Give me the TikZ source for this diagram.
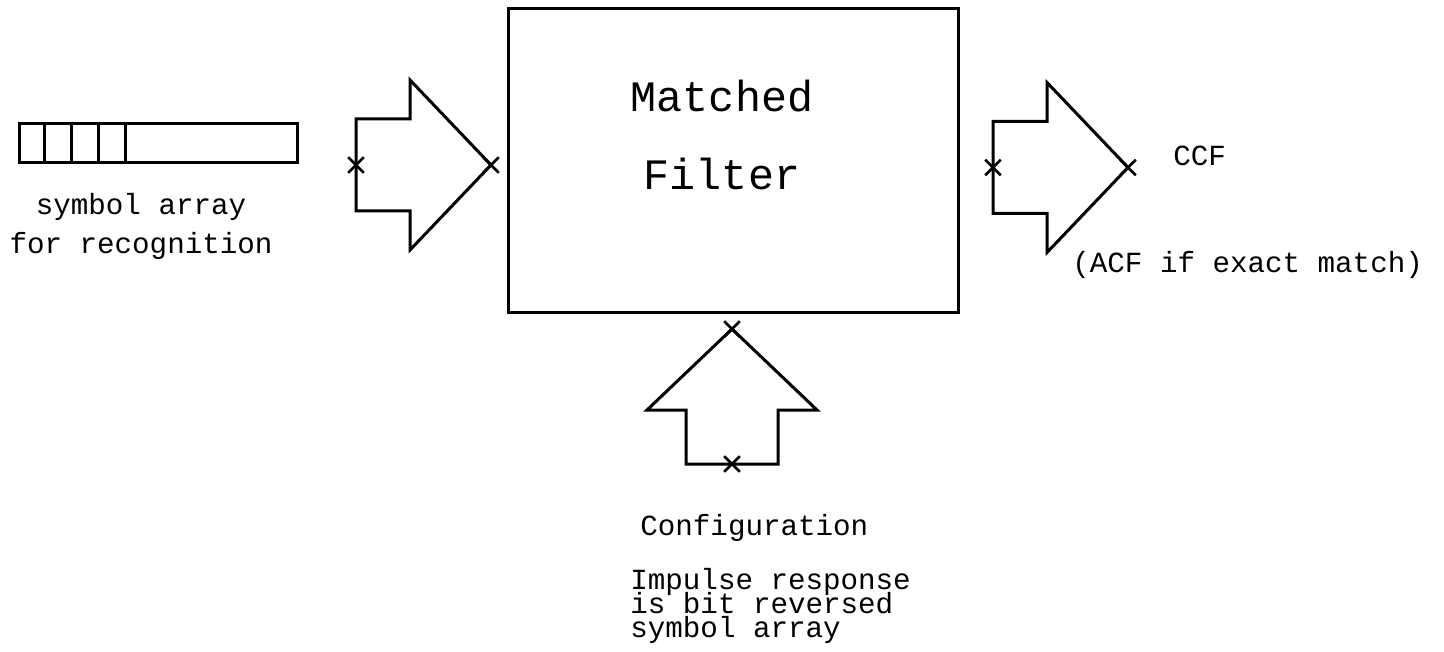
\documentclass[tikz,border=0pt]{standalone}
\usepackage{fontspec}
\setmonofont{Liberation Mono}
\usetikzlibrary{shapes.misc}
\newcommand\tightlines{\lineskiplimit -20pt\relax}
\tikzset{
  blk/.style={draw, line width=1.5pt, inner sep=0pt},
  lbl/.style={font=\ttfamily\fontsize{14.6}{19.5}\selectfont, inner sep=0pt},
  big/.style={font=\ttfamily\fontsize{21.7}{39}\selectfont, inner sep=0pt},
  note/.style={inner sep=0pt, align=left,
               font=\ttfamily\fontsize{14.6}{11.8}\selectfont\tightlines},
  xmk/.style={draw, cross out, line width=1.3pt, minimum size=6.5pt, inner sep=0pt},
  pics/blkarrow/.style={code={
    \draw[line width=1.5pt] (0,-46) -- (54,-46) -- (54,-85) -- (135,0)
      -- (54,85) -- (54,46) -- (0,46) -- cycle;
    \node[xmk] (-tail) at (0,0) {};
    \node[xmk] (-tip) at (135,0) {};
  }},
}
\begin{document}
\begin{tikzpicture}[x=0.5pt, y=-0.5pt]
  \useasboundingbox (0,0) rectangle (1444,652);
  % symbol array
  \node[blk, minimum width=139pt, minimum height=19.5pt] (symarr) at (158,143.5) {};
  \foreach \k in {1,...,4}
    \draw[line width=1.5pt] ([xshift=\k*13.5pt]symarr.north west) -- ([xshift=\k*13.5pt]symarr.south west);
  \node[lbl, align=center, anchor=base] (symtxt) at (141,253) {symbol array\\for recognition};
  % filter
  \node[blk, minimum width=225pt, minimum height=151.5pt] (filter) at (733,160.5) {};
  \node[big, align=center, anchor=base] (filtxt) at (722,190) {Matched\\Filter};
  % block arrows
  \pic (inarr) at (356,165) {blkarrow};
  \pic (outarr) at (993,167.5) {blkarrow};
  \pic[rotate=90] (cfgarr) at (732,464) {blkarrow};
  % labels
  \node[lbl, anchor=base west] (ccf) at (1173,166) {CCF};
  \node[lbl, anchor=base west] (acf) at (1072,272) {(ACF if exact match)};
  \node[lbl, anchor=base west] (cfg) at (640,535) {Configuration};
  \node[note, anchor=base west] (imp) at (630,637) {Impulse response\\is bit reversed\\symbol array};
\end{tikzpicture}
\end{document}
